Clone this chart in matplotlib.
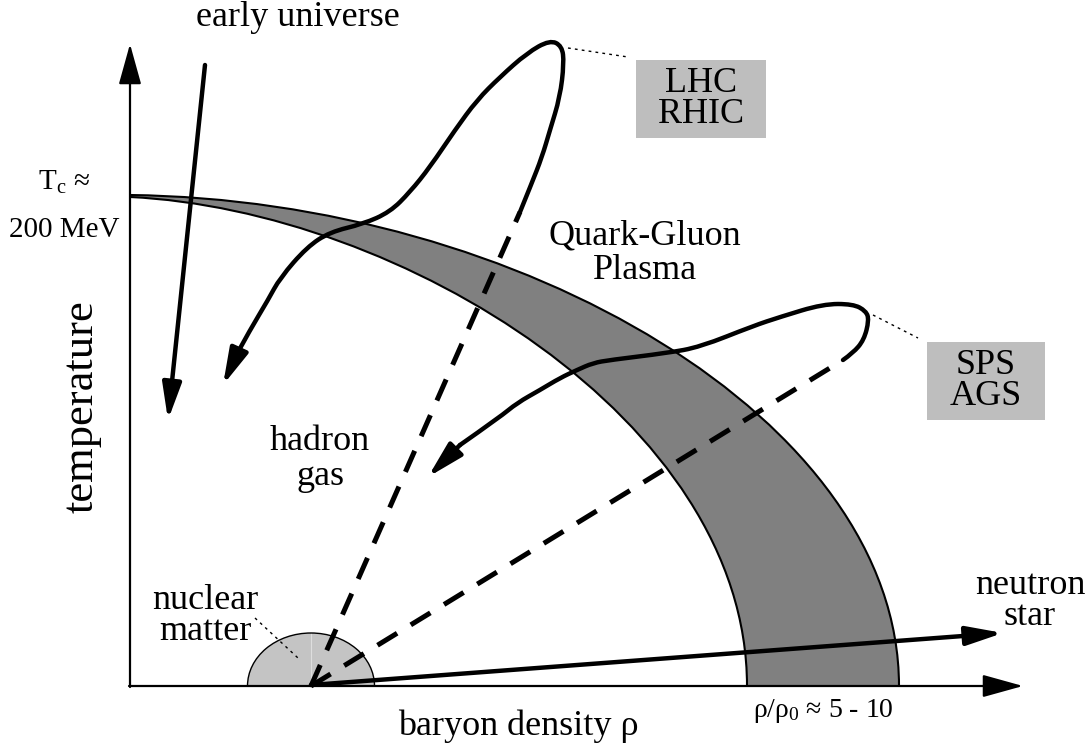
import matplotlib
matplotlib.use("Agg")
import matplotlib.pyplot as plt
from matplotlib.path import Path
from matplotlib.patches import PathPatch, Ellipse, Rectangle

plt.rcParams['font.family'] = ['Liberation Serif', 'DejaVu Serif']
plt.rcParams['mathtext.fontset'] = 'custom'
plt.rcParams['mathtext.rm'] = 'Liberation Serif'
plt.rcParams['mathtext.it'] = 'Liberation Serif:italic'

# diagram coordinates (pixel space of the sketch, y downwards)
nuclear_pt = (311, 686)

# phase boundary band: cubic bezier control points
outer_edge = [(130, 195), (520, 200), (899, 420), (899, 686)]
inner_edge = [(130, 197), (400, 210), (747, 420), (747, 686)]

# LHC / RHIC trajectory (spline control points)
lhc_dash_end = (520, 212)
lhc_curve = [(520, 212), (531, 185), (542, 157), (550, 130), (560, 97), (564, 63),
             (562, 46), (550, 40), (527, 53), (500, 77), (477, 100),
             (455, 130), (430, 167), (410, 192), (390, 212), (363, 224), (330, 232),
             (307, 247), (280, 278), (268, 300), (250, 330), (238, 352)]
lhc_tip = (223, 385)

# SPS / AGS trajectory
sps_dash_end = (843, 360)
sps_curve = [(843, 360), (853, 353), (864, 340), (869, 320), (866, 311), (853, 304),
             (823, 304), (780, 317), (753, 326), (700, 347), (667, 353), (610, 360),
             (593, 363), (577, 370), (560, 378), (540, 390), (517, 403), (500, 417),
             (460, 445)]
sps_tip = (428, 477)

# other arrows
early_start, early_tip = (205, 65), (168, 420)
neutron_tip = (1003, 633)


def smooth_path(pts):
    # quadratic spline through midpoints, drawn by matplotlib's path renderer
    verts = [pts[0]]
    codes = [Path.MOVETO]
    for i in range(1, len(pts) - 1):
        mid = ((pts[i][0] + pts[i + 1][0]) / 2, (pts[i][1] + pts[i + 1][1]) / 2)
        if i == len(pts) - 2:
            mid = pts[-1]
        verts += [pts[i], mid]
        codes += [Path.CURVE3, Path.CURVE3]
    return Path(verts, codes)


fig = plt.figure(figsize=(10.89, 7.5), dpi=100)
ax = fig.add_axes([0, 0, 1, 1])
ax.set_xlim(0, 1089)
ax.set_ylim(750, 0)
ax.axis('off')

# band
verts = outer_edge + [inner_edge[3]] + inner_edge[2::-1] + [outer_edge[0]]
codes = [Path.MOVETO, Path.CURVE4, Path.CURVE4, Path.CURVE4, Path.LINETO,
         Path.CURVE4, Path.CURVE4, Path.CURVE4, Path.CLOSEPOLY]
ax.add_patch(PathPatch(Path(verts, codes), facecolor='#808080', edgecolor='none', zorder=1))
for edge in (outer_edge, inner_edge):
    ax.add_patch(PathPatch(Path(edge, [Path.MOVETO] + [Path.CURVE4] * 3),
                           facecolor='none', edgecolor='black', lw=1.5, zorder=2))

# nuclear matter half disk
clip = Rectangle((0, 0), 1089, 686, transform=ax.transData)
disk = Ellipse(nuclear_pt, 127, 106, facecolor='#c4c4c4', edgecolor='black', lw=1, zorder=2)
ax.add_patch(disk)
disk.set_clip_path(clip)
ax.plot([311, 311], [634, 686], color='#dedede', lw=0.8, zorder=2)
ax.plot([255, 298], [618, 658], color='black', lw=1, ls=(0, (2, 3)), zorder=3)

# axes
arr = dict(arrowstyle='-|>,head_length=0.9,head_width=0.25', color='black', lw=1.6,
           shrinkA=0, shrinkB=0, mutation_scale=28)
ax.annotate('', xy=(130, 44), xytext=(130, 687), arrowprops=arr, zorder=4)
ax.annotate('', xy=(1023, 686), xytext=(129, 686), arrowprops=arr, zorder=4)

thick = 3.2
dash = (0, (4.6, 3.2))
head = dict(arrowstyle='-|>,head_length=1.0,head_width=0.26', color='black', lw=thick,
            shrinkA=0, shrinkB=0, mutation_scale=22)

# dashed lines from nuclear matter
ax.plot([nuclear_pt[0], lhc_dash_end[0]], [nuclear_pt[1], lhc_dash_end[1]],
        color='black', lw=3.6, ls=dash, zorder=5)
ax.plot([nuclear_pt[0], sps_dash_end[0]], [nuclear_pt[1], sps_dash_end[1]],
        color='black', lw=3.6, ls=dash, zorder=5)

# trajectories
for curve, tip in ((lhc_curve, lhc_tip), (sps_curve, sps_tip)):
    ax.add_patch(PathPatch(smooth_path(curve), facecolor='none', edgecolor='black',
                           lw=thick, capstyle='round', zorder=5))
    ax.annotate('', xy=tip, xytext=curve[-1], arrowprops=head, zorder=5)

ax.annotate('', xy=early_tip, xytext=early_start, arrowprops=head, zorder=5)
ax.annotate('', xy=neutron_tip, xytext=(311, 685), arrowprops=head, zorder=5)

# leader lines to boxes
ax.plot([568, 628], [48, 57], color='black', lw=1, ls=(0, (2, 3)))
ax.plot([873, 918], [315, 338], color='black', lw=1, ls=(0, (2, 3)))
ax.add_patch(Rectangle((636, 60), 130, 78, facecolor='#bebebe', edgecolor='none'))
ax.add_patch(Rectangle((927, 342), 118, 78, facecolor='#bebebe', edgecolor='none'))

fs = 26
ax.text(701, 99, 'LHC\nRHIC', fontsize=fs, ha='center', va='center', linespacing=0.95)
ax.text(986, 381, 'SPS\nAGS', fontsize=fs, ha='center', va='center', linespacing=0.95)
ax.text(298, 18, 'early universe', fontsize=fs, ha='center', va='center')
ax.text(645, 253, 'Quark-Gluon\nPlasma', fontsize=fs, ha='center', va='center', linespacing=1.05)
ax.text(320, 459, 'hadron\ngas', fontsize=fs, ha='center', va='center', linespacing=1.05)
ax.text(205, 616, 'nuclear\nmatter', fontsize=fs, ha='center', va='center', linespacing=0.95)
ax.text(1030, 601, 'neutron\nstar', fontsize=fs, ha='center', va='center', linespacing=0.95)
ax.text(82, 407, 'temperature', fontsize=32, ha='center', va='center', rotation=90)
ax.text(518, 726, 'baryon density ρ', fontsize=fs, ha='center', va='center')
ax.text(64, 182, r'T$_{\rm c}$ ≈', fontsize=21, ha='center', va='center')
ax.text(64, 230, '200 MeV', fontsize=21, ha='center', va='center')
ax.text(753, 711, r'ρ/ρ$_{0}$ ≈ 5 - 10', fontsize=20, ha='left', va='center')

fig.savefig('out.png', dpi=100)
